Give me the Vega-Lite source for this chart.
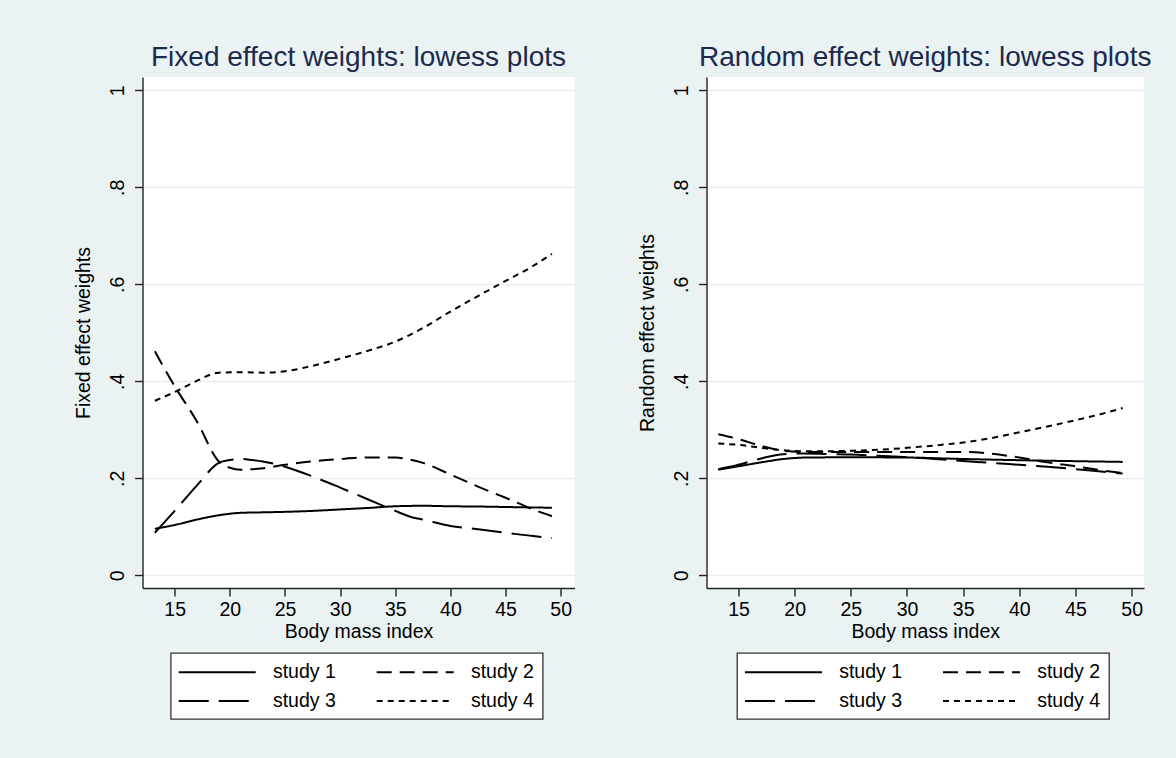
{
  "$schema": "https://vega.github.io/schema/vega-lite/v6.json",
  "background": "#EAF2F3",
  "padding": {"left": 72.5, "top": 44, "right": 40, "bottom": 45},
  "autosize": {"type": "pad"},
  "config": {
    "font": "Liberation Sans",
    "view": {"fill": "white", "stroke": null},
    "title": {"fontSize": 28, "font": "Liberation Sans", "fontWeight": "normal", "color": "#1C2A4C", "anchor": "middle", "frame": "group", "baseline": "alphabetic", "offset": 4.6},
    "axis": {"domainColor": "#222222", "domainWidth": 1.4, "tickColor": "#222222", "tickWidth": 1.4, "tickSize": 8, "labelFontSize": 19.5, "titleFontSize": 19.5, "labelColor": "black", "titleColor": "black", "titleFontWeight": "normal", "labelFont": "Liberation Sans", "titleFont": "Liberation Sans", "grid": false},
    "axisY": {"grid": true, "gridColor": "#E8ECED", "gridWidth": 1.5, "labelAngle": -90, "labelAlign": "center", "labelBaseline": "bottom", "labelPadding": 7, "titlePadding": 14.5},
    "axisX": {"labelPadding": 4.5, "titlePadding": 3},
    "legend": {"direction": "horizontal", "strokeColor": "#333333", "strokeWidth": 1.3, "fillColor": "white", "padding": 8, "columns": 2, "columnPadding": 36, "rowPadding": 8, "symbolType": "M-3.85,0H3.85", "symbolSize": 400, "symbolOffset": 27.5, "symbolStrokeWidth": 2, "symbolStrokeColor": "black", "labelFontSize": 19.5, "labelColor": "black", "labelFont": "Liberation Sans", "labelOffset": 44.7, "labelBaseline": "middle"},
    "line": {"strokeWidth": 2, "color": "black", "interpolate": "monotone"}
  },
  "datasets": {
    "fixed": [
      {"study": "study 1", "bmi": 13.2, "w": 0.096}, {"study": "study 1", "bmi": 15, "w": 0.104}, {"study": "study 1", "bmi": 17, "w": 0.115}, {"study": "study 1", "bmi": 19, "w": 0.124}, {"study": "study 1", "bmi": 21, "w": 0.129}, {"study": "study 1", "bmi": 23, "w": 0.130}, {"study": "study 1", "bmi": 25, "w": 0.131}, {"study": "study 1", "bmi": 27.5, "w": 0.133}, {"study": "study 1", "bmi": 30, "w": 0.136}, {"study": "study 1", "bmi": 32.5, "w": 0.139}, {"study": "study 1", "bmi": 35, "w": 0.1425}, {"study": "study 1", "bmi": 37.5, "w": 0.1435}, {"study": "study 1", "bmi": 40, "w": 0.1425}, {"study": "study 1", "bmi": 42.5, "w": 0.142}, {"study": "study 1", "bmi": 45, "w": 0.141}, {"study": "study 1", "bmi": 47.5, "w": 0.140}, {"study": "study 1", "bmi": 49.2, "w": 0.1395},
      {"study": "study 2", "bmi": 13.2, "w": 0.462}, {"study": "study 2", "bmi": 15, "w": 0.39}, {"study": "study 2", "bmi": 17, "w": 0.318}, {"study": "study 2", "bmi": 19, "w": 0.235}, {"study": "study 2", "bmi": 20, "w": 0.222}, {"study": "study 2", "bmi": 21, "w": 0.218}, {"study": "study 2", "bmi": 23, "w": 0.221}, {"study": "study 2", "bmi": 25, "w": 0.228}, {"study": "study 2", "bmi": 27.5, "w": 0.235}, {"study": "study 2", "bmi": 30, "w": 0.240}, {"study": "study 2", "bmi": 32.5, "w": 0.243}, {"study": "study 2", "bmi": 35, "w": 0.243}, {"study": "study 2", "bmi": 36.5, "w": 0.238}, {"study": "study 2", "bmi": 37.5, "w": 0.232}, {"study": "study 2", "bmi": 40, "w": 0.208}, {"study": "study 2", "bmi": 42.5, "w": 0.183}, {"study": "study 2", "bmi": 45, "w": 0.160}, {"study": "study 2", "bmi": 47.5, "w": 0.136}, {"study": "study 2", "bmi": 49.2, "w": 0.122},
      {"study": "study 3", "bmi": 13.2, "w": 0.088}, {"study": "study 3", "bmi": 15, "w": 0.133}, {"study": "study 3", "bmi": 17, "w": 0.185}, {"study": "study 3", "bmi": 19, "w": 0.232}, {"study": "study 3", "bmi": 20, "w": 0.238}, {"study": "study 3", "bmi": 21, "w": 0.240}, {"study": "study 3", "bmi": 22, "w": 0.238}, {"study": "study 3", "bmi": 23, "w": 0.235}, {"study": "study 3", "bmi": 25, "w": 0.224}, {"study": "study 3", "bmi": 27.5, "w": 0.204}, {"study": "study 3", "bmi": 30, "w": 0.181}, {"study": "study 3", "bmi": 32.5, "w": 0.157}, {"study": "study 3", "bmi": 35, "w": 0.133}, {"study": "study 3", "bmi": 36.5, "w": 0.12}, {"study": "study 3", "bmi": 37.5, "w": 0.115}, {"study": "study 3", "bmi": 40, "w": 0.102}, {"study": "study 3", "bmi": 42.5, "w": 0.095}, {"study": "study 3", "bmi": 45, "w": 0.088}, {"study": "study 3", "bmi": 47.5, "w": 0.081}, {"study": "study 3", "bmi": 49.2, "w": 0.077},
      {"study": "study 4", "bmi": 13.2, "w": 0.36}, {"study": "study 4", "bmi": 15, "w": 0.378}, {"study": "study 4", "bmi": 17, "w": 0.401}, {"study": "study 4", "bmi": 19, "w": 0.418}, {"study": "study 4", "bmi": 21, "w": 0.419}, {"study": "study 4", "bmi": 23, "w": 0.418}, {"study": "study 4", "bmi": 25, "w": 0.421}, {"study": "study 4", "bmi": 27.5, "w": 0.432}, {"study": "study 4", "bmi": 30, "w": 0.447}, {"study": "study 4", "bmi": 32.5, "w": 0.463}, {"study": "study 4", "bmi": 35, "w": 0.482}, {"study": "study 4", "bmi": 37.5, "w": 0.51}, {"study": "study 4", "bmi": 40, "w": 0.544}, {"study": "study 4", "bmi": 42.5, "w": 0.576}, {"study": "study 4", "bmi": 45, "w": 0.607}, {"study": "study 4", "bmi": 47.5, "w": 0.638}, {"study": "study 4", "bmi": 49.2, "w": 0.663}
    ],
    "random": [
      {"study": "study 1", "bmi": 13.2, "w": 0.218}, {"study": "study 1", "bmi": 15, "w": 0.225}, {"study": "study 1", "bmi": 17, "w": 0.233}, {"study": "study 1", "bmi": 19, "w": 0.240}, {"study": "study 1", "bmi": 21, "w": 0.243}, {"study": "study 1", "bmi": 25, "w": 0.2435}, {"study": "study 1", "bmi": 30, "w": 0.243}, {"study": "study 1", "bmi": 35, "w": 0.240}, {"study": "study 1", "bmi": 40, "w": 0.2375}, {"study": "study 1", "bmi": 45, "w": 0.2355}, {"study": "study 1", "bmi": 49.2, "w": 0.234},
      {"study": "study 2", "bmi": 13.2, "w": 0.291}, {"study": "study 2", "bmi": 15, "w": 0.281}, {"study": "study 2", "bmi": 17, "w": 0.267}, {"study": "study 2", "bmi": 19, "w": 0.257}, {"study": "study 2", "bmi": 21, "w": 0.2545}, {"study": "study 2", "bmi": 25, "w": 0.2545}, {"study": "study 2", "bmi": 30, "w": 0.2545}, {"study": "study 2", "bmi": 35, "w": 0.2545}, {"study": "study 2", "bmi": 37.5, "w": 0.251}, {"study": "study 2", "bmi": 40, "w": 0.243}, {"study": "study 2", "bmi": 42.5, "w": 0.233}, {"study": "study 2", "bmi": 45, "w": 0.225}, {"study": "study 2", "bmi": 47.5, "w": 0.216}, {"study": "study 2", "bmi": 49.2, "w": 0.211},
      {"study": "study 3", "bmi": 13.2, "w": 0.219}, {"study": "study 3", "bmi": 15, "w": 0.228}, {"study": "study 3", "bmi": 17, "w": 0.241}, {"study": "study 3", "bmi": 19, "w": 0.25}, {"study": "study 3", "bmi": 21, "w": 0.2515}, {"study": "study 3", "bmi": 23, "w": 0.25}, {"study": "study 3", "bmi": 25, "w": 0.249}, {"study": "study 3", "bmi": 27.5, "w": 0.2465}, {"study": "study 3", "bmi": 30, "w": 0.244}, {"study": "study 3", "bmi": 32.5, "w": 0.24}, {"study": "study 3", "bmi": 35, "w": 0.236}, {"study": "study 3", "bmi": 37.5, "w": 0.232}, {"study": "study 3", "bmi": 40, "w": 0.228}, {"study": "study 3", "bmi": 42.5, "w": 0.224}, {"study": "study 3", "bmi": 45, "w": 0.219}, {"study": "study 3", "bmi": 47.5, "w": 0.2135}, {"study": "study 3", "bmi": 49.2, "w": 0.21},
      {"study": "study 4", "bmi": 13.2, "w": 0.272}, {"study": "study 4", "bmi": 15, "w": 0.269}, {"study": "study 4", "bmi": 17, "w": 0.263}, {"study": "study 4", "bmi": 19, "w": 0.258}, {"study": "study 4", "bmi": 21, "w": 0.256}, {"study": "study 4", "bmi": 23, "w": 0.256}, {"study": "study 4", "bmi": 25, "w": 0.257}, {"study": "study 4", "bmi": 27.5, "w": 0.259}, {"study": "study 4", "bmi": 30, "w": 0.263}, {"study": "study 4", "bmi": 32.5, "w": 0.268}, {"study": "study 4", "bmi": 35, "w": 0.274}, {"study": "study 4", "bmi": 37.5, "w": 0.283}, {"study": "study 4", "bmi": 40, "w": 0.295}, {"study": "study 4", "bmi": 42.5, "w": 0.307}, {"study": "study 4", "bmi": 45, "w": 0.32}, {"study": "study 4", "bmi": 47.5, "w": 0.334}, {"study": "study 4", "bmi": 49.2, "w": 0.345}
    ]
  },
  "bounds": "flush",
  "spacing": 132,
  "resolve": {"scale": {"strokeDash": "independent"}, "legend": {"strokeDash": "independent"}},
  "hconcat": [
    {
      "width": 432,
      "height": 511,
      "title": {"text": "Fixed effect weights: lowess plots"},
      "data": {"name": "fixed"},
      "mark": {"type": "line"},
      "encoding": {
        "x": {"field": "bmi", "type": "quantitative", "scale": {"domain": [12.08, 51.25], "nice": false, "zero": false}, "axis": {"values": [15, 20, 25, 30, 35, 40, 45, 50], "title": "Body mass index"}},
        "y": {"field": "w", "type": "quantitative", "scale": {"domain": [-0.026, 1.0276], "nice": false, "zero": false}, "axis": {"values": [0, 0.2, 0.4, 0.6, 0.8, 1], "title": "Fixed effect weights", "labelExpr": "datum.value == 0 ? '0' : datum.value == 1 ? '1' : '.' + format(datum.value * 10, '.0f')"}},
        "strokeDash": {"field": "study", "type": "nominal", "scale": {"domain": ["study 1", "study 2", "study 3", "study 4"], "range": [[1, 0], [15, 8], [30, 10], [6, 5]]}, "legend": {"title": null, "orient": "none", "direction": "horizontal", "legendX": 28.2, "legendY": 576}}
      }
    },
    {
      "width": 437.5,
      "height": 511,
      "title": {"text": "Random effect weights: lowess plots"},
      "data": {"name": "random"},
      "mark": {"type": "line"},
      "encoding": {
        "x": {"field": "bmi", "type": "quantitative", "scale": {"domain": [12.15, 51.1], "nice": false, "zero": false}, "axis": {"values": [15, 20, 25, 30, 35, 40, 45, 50], "title": "Body mass index"}},
        "y": {"field": "w", "type": "quantitative", "scale": {"domain": [-0.026, 1.0276], "nice": false, "zero": false}, "axis": {"values": [0, 0.2, 0.4, 0.6, 0.8, 1], "title": "Random effect weights", "labelExpr": "datum.value == 0 ? '0' : datum.value == 1 ? '1' : '.' + format(datum.value * 10, '.0f')"}},
        "strokeDash": {"field": "study", "type": "nominal", "scale": {"domain": ["study 1", "study 2", "study 3", "study 4"], "range": [[1, 0], [15, 8], [30, 10], [6, 5]]}, "legend": {"title": null, "orient": "none", "direction": "horizontal", "legendX": 30.5, "legendY": 576}}
      }
    }
  ]
}
